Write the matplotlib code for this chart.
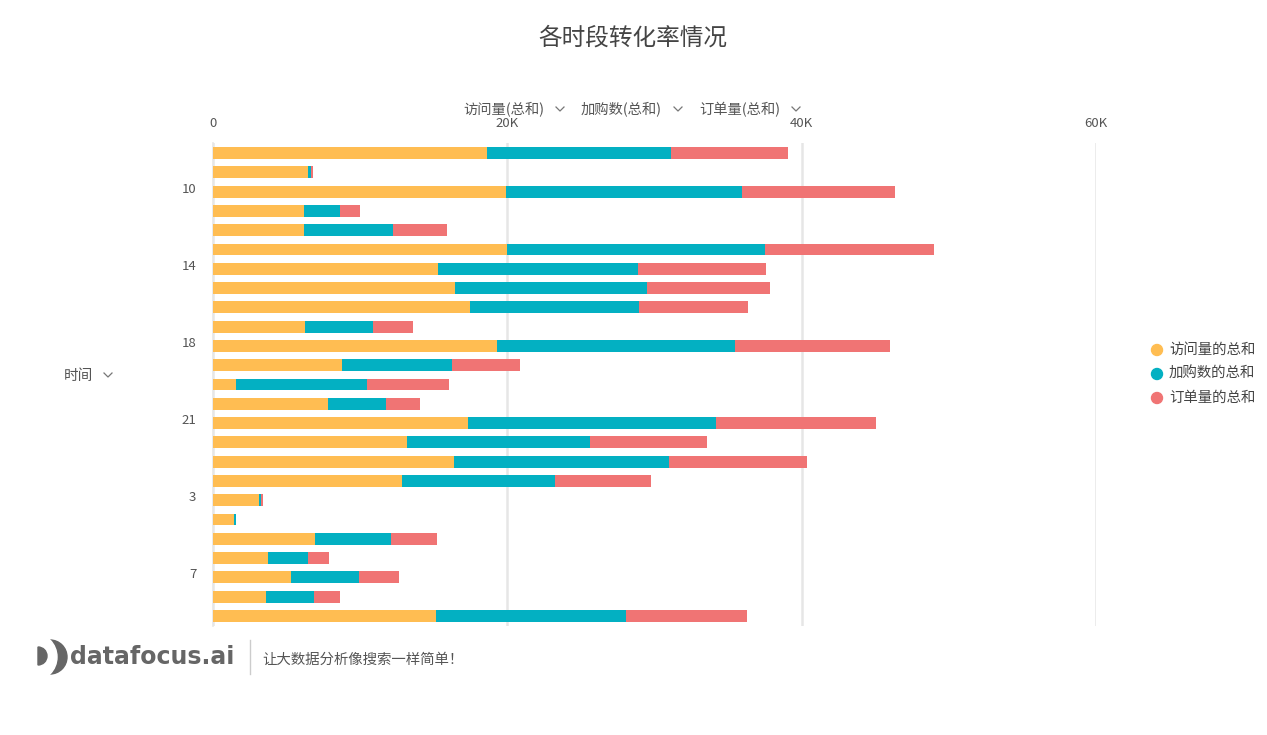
import matplotlib
matplotlib.use("Agg")
import matplotlib.pyplot as plt
import matplotlib.ticker as mticker
import matplotlib.transforms as mtransforms
from matplotlib.patches import Wedge, Circle
import numpy as np

plt.rcParams['font.family'] = ['Noto Sans CJK SC', 'DejaVu Sans']

# categories (string-sorted hours as in the source tool)
hours = ["0", "1", "10", "11", "12", "13", "14", "15", "16", "17", "18", "19", "2",
         "20", "21", "22", "23", "24", "3", "4", "5", "6", "7", "8", "9"]
# values in K
visits = [18.6, 6.48, 19.9, 6.2, 6.2, 19.98, 15.29, 16.47, 17.49, 6.27, 19.27, 8.77, 1.56,
          7.84, 17.33, 13.16, 16.38, 12.86, 3.13, 1.43, 6.91, 3.76, 5.32, 3.58, 15.18]
carts = [12.5, 0.2, 16.05, 2.45, 6.03, 17.55, 13.59, 13.0, 11.48, 4.6, 16.22, 7.47, 8.91,
         3.94, 16.83, 12.48, 14.58, 10.38, 0.15, 0.11, 5.19, 2.67, 4.58, 3.26, 12.86]
orders = [8.0, 0.09, 10.4, 1.31, 3.69, 11.44, 8.72, 8.36, 7.36, 2.69, 10.49, 4.64, 5.59,
          2.31, 10.92, 7.95, 9.41, 6.55, 0.14, 0.03, 3.12, 1.43, 2.76, 1.81, 8.25]
series_names = ["访问量的总和", "加购数的总和", "订单量的总和"]
header_names = ["访问量(总和)", "加购数(总和)", "订单量(总和)"]
colors = ["#FFBD52", "#03B0C2", "#F07474"]

W, H = 1267, 735
fig = plt.figure(figsize=(W / 100, H / 100), dpi=100)

# overlay in pixel coords for the decorations
ov = fig.add_axes([0, 0, 1, 1])
ov.set_xlim(0, W)
ov.set_ylim(H, 0)
ov.axis("off")

ax = fig.add_axes([213 / W, 1 - 625.6 / H, (1096 - 213) / W, (625.6 - 143.4) / H])

y = np.arange(len(hours))
v = np.array(visits) * 1000
c = np.array(carts) * 1000
o = np.array(orders) * 1000
ax.barh(y, v, height=0.62, color=colors[0], zorder=3)
ax.barh(y, c, left=v, height=0.62, color=colors[1], zorder=3)
ax.barh(y, o, left=v + c, height=0.62, color=colors[2], zorder=3)

ax.set_xlim(0, 60000)
ax.set_ylim(len(hours) - 0.5, -0.5)
ax.xaxis.tick_top()
ax.set_xticks([0, 20000, 40000, 60000])
ax.xaxis.set_major_formatter(mticker.FuncFormatter(lambda x, _: "0" if x == 0 else f"{int(x/1000)}K"))
ax.tick_params(axis='x', length=0, pad=10, labelsize=9.5, labelcolor="#555555")
ax.set_yticks(y[2::4])
ax.set_yticklabels([hours[i] for i in y[2::4]])
ax.tick_params(axis='y', length=0, pad=12, labelsize=9.5, labelcolor="#555555")
shift = mtransforms.ScaledTranslation(0, 4 / 100, fig.dpi_scale_trans)
for lab in ax.get_yticklabels():
    lab.set_transform(lab.get_transform() + shift)
ax.grid(axis='x', color="#e6e6e6", linewidth=1.8, zorder=0)
for s in ["top", "right", "bottom"]:
    ax.spines[s].set_visible(False)
ax.spines["left"].set_color("#e6e6e6")
ax.spines["left"].set_linewidth(1.2)

def chevron(px, py, size=4):
    ov.plot([px - size, px, px + size], [py - size / 2, py + size / 2, py - size / 2],
            color="#777777", linewidth=0.9)

# title
ov.text(633, 38, "各时段转化率情况", ha="center", va="center", fontsize=17, color="#444444")

# header series selectors
hx = [463, 581, 699]
for name, x0 in zip(header_names, hx):
    ov.text(x0, 110, name, ha="left", va="center", fontsize=10.3, color="#555555")
    chevron(x0 + 97, 109)

# y axis name
ov.text(64, 376, "时间", ha="left", va="center", fontsize=10.5, color="#555555")
chevron(108, 375)

# legend
for i, name in enumerate(series_names):
    yy = 350 + 24 * i
    ov.add_patch(Circle((1157, yy), 5.5, color=colors[i]))
    ov.text(1169, yy, name, ha="left", va="center", fontsize=10.4, color="#444444")

# footer logo
ov.add_patch(Wedge((50, 657), 17, -90, 90, color="#666666"))
ov.add_patch(Circle((32.9, 657), 24.1, color="white"))
ov.add_patch(Wedge((38, 656), 9, -90, 90, color="#666666"))
ov.text(70, 657, "datafocus.ai", ha="left", va="center", fontsize=17,
        fontweight="bold", color="#666666", family="DejaVu Sans")
ov.plot([250, 250], [640, 674], color="#cccccc", linewidth=1)
ov.text(262, 660, "让大数据分析像搜索一样简单！", ha="left", va="center", fontsize=10.4,
        color="#555555")

fig.savefig("out.png", dpi=100, facecolor="white")
